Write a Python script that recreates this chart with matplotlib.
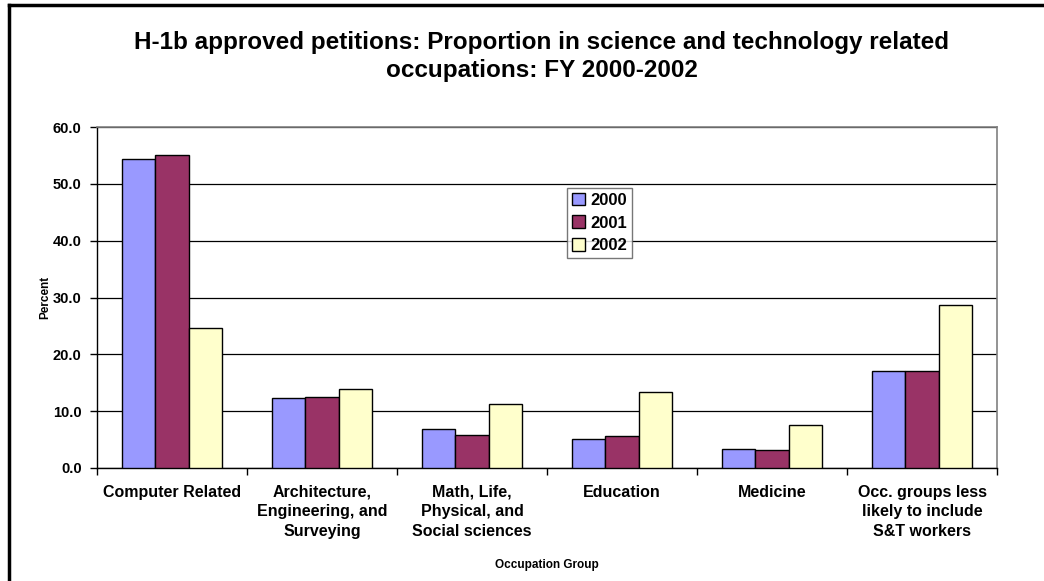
import numpy as np
import matplotlib
matplotlib.use("Agg")
import matplotlib.pyplot as plt
from matplotlib.lines import Line2D

plt.rcParams['font.family'] = ['Liberation Sans', 'DejaVu Sans']
plt.rcParams['font.weight'] = 'bold'

categories = ["Computer Related", "Architecture,\nEngineering, and\nSurveying",
              "Math, Life,\nPhysical, and\nSocial sciences", "Education", "Medicine",
              "Occ. groups less\nlikely to include\nS&T workers"]
years = ["2000", "2001", "2002"]
v2000 = [54.4, 12.4, 6.9, 5.1, 3.3, 17.1]
v2001 = [55.0, 12.5, 5.8, 5.7, 3.2, 17.1]
v2002 = [24.6, 13.9, 11.3, 13.4, 7.5, 28.7]
colors = ["#9999FF", "#993366", "#FFFFCC"]

fig = plt.figure(figsize=(10.44, 5.81), dpi=100)
ax = fig.add_axes([0.0929, 0.1945, 0.8621, 0.5869])

x = np.arange(len(categories))
w = 0.222
for i, (vals, c, lab) in enumerate(zip([v2000, v2001, v2002], colors, years)):
    ax.bar(x + (i - 1) * w, vals, width=w, color=c, edgecolor="black",
           linewidth=1.0, label=lab, zorder=3)

ax.set_xlim(-0.5, len(categories) - 0.5)
ax.set_ylim(0, 60)
ax.set_yticks(np.arange(0, 61, 10))
ax.set_yticklabels([f"{v:.1f}" for v in np.arange(0, 61, 10)], fontsize=10.5, fontweight="bold")
ax.yaxis.grid(True, color="black", linewidth=0.9, zorder=0)
ax.set_axisbelow(True)

# category labels sit between the boundary ticks
ax.set_xticks(np.arange(-0.5, len(categories), 1.0))
ax.set_xticklabels([])
ax.set_xticks(x, minor=True)
ax.set_xticklabels(categories, minor=True, fontsize=11.5, fontweight="bold",
                   linespacing=1.4, va="top")
ax.tick_params(axis="x", which="minor", length=0, pad=12)
ax.tick_params(axis="x", which="major", length=5, width=1, color="black")
ax.tick_params(axis="y", length=5, width=1, pad=6)

for s in ["top", "right"]:
    ax.spines[s].set_color("#808080")
    ax.spines[s].set_linewidth(1.2)
for s in ["left", "bottom"]:
    ax.spines[s].set_color("black")
    ax.spines[s].set_linewidth(1.0)

ax.set_ylabel("Percent", fontsize=8.5, fontweight="bold", labelpad=1)
ax.set_xlabel("Occupation Group", fontsize=8.5, fontweight="bold", labelpad=14)

handles = [plt.Rectangle((0, 0), 1, 1, facecolor=c, edgecolor="black", linewidth=1)
           for c in colors]
leg = ax.legend(handles, years, loc="upper left", bbox_to_anchor=(0.522, 0.822),
                prop={"weight": "bold", "size": 12}, frameon=True,
                fancybox=False, edgecolor="#555555", handlelength=0.8,
                handleheight=0.8, handletextpad=0.3, borderpad=0.3,
                labelspacing=0.45, borderaxespad=0)
leg.get_frame().set_linewidth(1.0)

fig.text(0.519, 0.903, "H-1b approved petitions: Proportion in science and technology related\noccupations: FY 2000-2002",
         ha="center", va="center", fontsize=17.5, fontweight="bold", linespacing=1.3)

# outer frame (left and top edges visible)
fig.add_artist(Line2D([9 / 1044, 9 / 1044], [0, 1 - 5 / 581], color="black", linewidth=2.5))
fig.add_artist(Line2D([9 / 1044, 1], [1 - 5 / 581, 1 - 5 / 581], color="black", linewidth=2.5))

fig.savefig("out.png", dpi=100)
